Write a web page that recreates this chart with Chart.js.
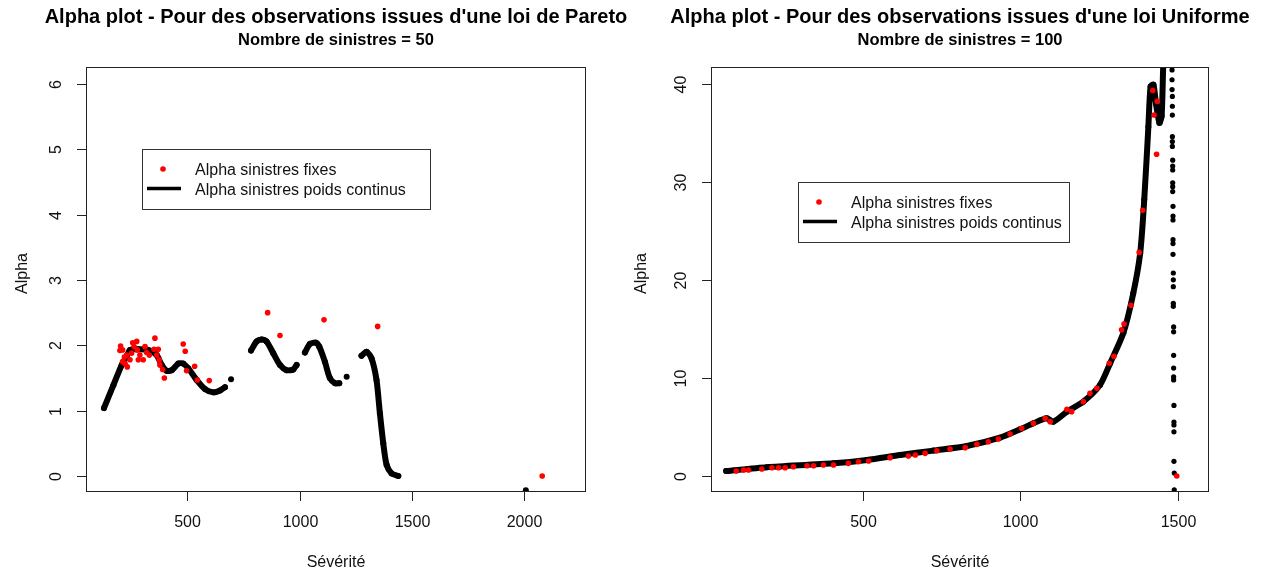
<!DOCTYPE html>
<html>
<head>
<meta charset="utf-8">
<script src="https://cdn.jsdelivr.net/npm/chart.js@4.4.1/dist/chart.umd.min.js"></script>
<style>
html, body { margin: 0; padding: 0; background: #fff; }
#cadre { position: relative; width: 1261px; height: 571px; }
#pareto { position: absolute; left: 0; top: 0; }
#uniforme { position: absolute; left: 630px; top: 0; }
</style>
</head>
<body>
<div id="cadre">
  <canvas id="pareto" width="630" height="571"></canvas>
  <canvas id="uniforme" width="631" height="571"></canvas>
</div>
<script>
// ---- Loi de Pareto, 50 sinistres ----
// alpha sinistres fixes
const paretoFixesX = [203, 200, 212, 220, 230, 223, 212, 233, 245, 252, 257, 275, 263, 277, 289, 282, 304, 312, 319, 331,
  356, 352, 371, 364, 375, 378, 390, 398, 482, 491, 497, 533, 545, 598, 858, 913, 1109, 1348, 2081];
const paretoFixesY = [1.99, 1.92, 1.93, 1.82, 1.85, 1.72, 1.75, 1.67, 1.78, 1.88, 2.04, 2.06, 1.98, 1.93, 1.85, 1.78, 1.78, 1.98, 1.89, 1.85,
  2.11, 1.94, 1.94, 1.85, 1.78, 1.70, 1.63, 1.50, 2.02, 1.91, 1.61, 1.68, 1.47, 1.46, 2.50, 2.15, 2.39, 2.29, 0.00];
// alpha poids continus (null = trou dans la courbe)
const paretoContinusX = [129, 171, 208, 230, 245, 282, 326, 364, 386, 408, 431, 460, 482, 504, 542, 579, 616, 646, 668,
  682, 695, 740,
  784, 809, 831, 853, 883, 913, 942, 972, 987,
  1005, 1024, 1046, 1073, 1088, 1113, 1135, 1158, 1177,
  1195, 1210, 1240,
  1276, 1299, 1321, 1343, 1358, 1373, 1388, 1410, 1440,
  1700, 2008];
const paretoContinusY = [1.04, 1.39, 1.70, 1.83, 1.93, 1.94, 1.93, 1.85, 1.70, 1.61, 1.62, 1.72, 1.72, 1.65, 1.47, 1.33, 1.28, 1.31, 1.36,
  null, 1.48, null,
  1.92, 2.06, 2.09, 2.06, 1.88, 1.70, 1.62, 1.63, 1.70,
  null, 1.89, 2.02, 2.04, 1.98, 1.75, 1.50, 1.42, 1.42,
  null, 1.52, null,
  1.84, 1.90, 1.80, 1.47, 0.96, 0.50, 0.17, 0.04, 0.00,
  null, -0.22];
const paretoTicksX = [500, 1000, 1500, 2000];
const paretoTicksY = [0, 1, 2, 3, 4, 5, 6];

// ---- Loi Uniforme, 100 sinistres ----
const uniformeFixesX = [100, 123, 139, 181, 213, 234, 255, 281, 324, 345, 376, 408, 455, 487, 519, 587, 645, 667, 698, 735,
  777, 825, 862, 898, 930, 967, 1004, 1041, 1078, 1094, 1147, 1162, 1199, 1220, 1242, 1281, 1296, 1320, 1328, 1350,
  1376, 1387, 1419, 1433, 1423, 1431, 1495];
const uniformeFixesY = [0.51, 0.61, 0.61, 0.71, 0.85, 0.85, 0.85, 0.95, 1.05, 1.05, 1.12, 1.12, 1.29, 1.46, 1.53, 1.87, 2.04, 2.14, 2.31, 2.58,
  2.76, 2.89, 3.23, 3.50, 3.78, 4.29, 4.86, 5.37, 5.88, 5.54, 6.80, 6.56, 7.58, 8.43, 8.94, 11.5, 12.2, 14.9, 15.5, 17.4,
  22.8, 27.1, 39.3, 38.2, 36.8, 32.8, 0.0];
const uniformeContinusX = [68, 197, 408, 514, 619, 724, 830, 935, 999, 1041, 1083, 1104, 1147, 1199, 1252, 1284, 1326, 1357,
  1379, 1392, 1405, 1412, 1421, 1429, 1440, 1447, 1452, 1458];
const uniformeContinusY = [0.51, 0.89, 1.29, 1.63, 2.14, 2.59, 3.06, 3.91, 4.76, 5.37, 5.88, 5.54, 6.56, 7.58, 9.29, 11.5, 14.6, 18.6,
  22.7, 28.2, 35.6, 39.7, 39.9, 38.0, 36.0, 36.7, 41.8, 46.0];
// colonne de points isolés près de 1500
const uniformeIsolesX = [1480, 1480, 1480, 1481, 1481, 1481, 1481, 1481, 1481, 1482, 1482, 1482, 1482, 1482, 1482, 1483, 1483, 1483, 1483, 1483,
  1483, 1484, 1484, 1484, 1484, 1484, 1485, 1485, 1485, 1485, 1485, 1485, 1486, 1486, 1486, 1486, 1486, 1487, 1487];
const uniformeIsolesY = [41.4, 40.4, 39.4, 38.7, 37.7, 36.8, 34.6, 34.1, 33.6, 32.2, 31.6, 31.2, 29.9, 29.5, 29.0, 27.5, 26.5, 26.1, 24.1, 23.7,
  22.6, 20.7, 20.0, 19.3, 17.6, 17.3, 15.2, 14.7, 12.3, 11.0, 10.1, 9.8, 7.2, 5.5, 5.2, 4.5, 1.5, 0.3, -1.4];
const uniformeTicksX = [500, 1000, 1500];
const uniformeTicksY = [0, 10, 20, 30, 40];

const policeR = '"Liberation Sans", Arial, sans-serif';

function enPoints(xs, ys) {
  return xs.map((x, i) => ({ x: x, y: ys[i] }));
}

// axes, titres et légende à la manière de R
const cadreR = {
  id: 'cadreR',
  afterDatasetsDraw(chart, args, o) {
    const ctx = chart.ctx;
    const a = chart.chartArea;
    const sx = chart.scales.x, sy = chart.scales.y;
    const cx = (a.left + a.right) / 2;
    ctx.save();

    ctx.strokeStyle = '#222';
    ctx.lineWidth = 1;
    ctx.strokeRect(a.left + 0.5, a.top + 0.5, a.right - a.left - 1, a.bottom - a.top - 1);

    ctx.fillStyle = '#111';
    ctx.font = '16px ' + policeR;
    ctx.textAlign = 'center';
    ctx.textBaseline = 'middle';
    o.ticksX.forEach(v => {
      const px = Math.round(sx.getPixelForValue(v)) + 0.5;
      ctx.beginPath();
      ctx.moveTo(px, a.bottom);
      ctx.lineTo(px, a.bottom + 9);
      ctx.stroke();
      ctx.fillText(String(v), px, a.bottom + 31);
    });
    o.ticksY.forEach(v => {
      const py = Math.round(sy.getPixelForValue(v)) + 0.5;
      ctx.beginPath();
      ctx.moveTo(a.left, py);
      ctx.lineTo(a.left - 9, py);
      ctx.stroke();
      ctx.save();
      ctx.translate(a.left - 29, py);
      ctx.rotate(-Math.PI / 2);
      ctx.fillText(String(v), 0, 0);
      ctx.restore();
    });

    ctx.fillText('Sévérité', cx, a.bottom + 71);
    ctx.save();
    ctx.translate(o.xAlpha, (a.top + a.bottom) / 2 - 6);
    ctx.rotate(-Math.PI / 2);
    ctx.fillText('Alpha', 0, 0);
    ctx.restore();

    ctx.fillStyle = '#000';
    ctx.font = 'bold 20px ' + policeR;
    ctx.fillText(o.titre, cx, 17);
    ctx.font = 'bold 16.5px ' + policeR;
    ctx.fillText(o.sousTitre, cx, 40);

    // légende
    const L = o.legende;
    const ds = chart.data.datasets;
    ctx.fillStyle = '#fff';
    ctx.fillRect(L.x, L.y, L.w, L.h);
    ctx.strokeStyle = '#333';
    ctx.strokeRect(L.x + 0.5, L.y + 0.5, L.w, L.h);
    ctx.fillStyle = ds[0].backgroundColor;
    ctx.beginPath();
    ctx.arc(L.x + 21, L.y + 20, 2.8, 0, Math.PI * 2);
    ctx.fill();
    ctx.strokeStyle = ds[1].borderColor;
    ctx.lineWidth = 3.5;
    ctx.beginPath();
    ctx.moveTo(L.x + 5, L.y + 39.5);
    ctx.lineTo(L.x + 39, L.y + 39.5);
    ctx.stroke();
    ctx.fillStyle = '#111';
    ctx.font = '16px ' + policeR;
    ctx.textAlign = 'left';
    ctx.fillText(ds[0].label, L.x + 53, L.y + 22);
    ctx.fillText(ds[1].label, L.x + 53, L.y + 42);
    ctx.restore();
  }
};

function faireGraphique(id, jeux, echelles, marges, opts) {
  new Chart(document.getElementById(id), {
    type: 'scatter',
    data: { datasets: jeux },
    options: {
      responsive: false,
      animation: false,
      layout: { padding: marges },
      plugins: { legend: { display: false }, tooltip: { enabled: false }, cadreR: opts },
      scales: {
        x: { type: 'linear', min: echelles.xmin, max: echelles.xmax, display: false },
        y: { type: 'linear', min: echelles.ymin, max: echelles.ymax, display: false }
      }
    },
    plugins: [cadreR]
  });
}

function jeuFixes(xs, ys) {
  return { label: 'Alpha sinistres fixes', data: enPoints(xs, ys), backgroundColor: '#ff0000',
    pointRadius: 2.8, pointBorderWidth: 0, clip: 0 };
}
function jeuContinus(xs, ys) {
  return { label: 'Alpha sinistres poids continus', data: enPoints(xs, ys), showLine: true, spanGaps: false,
    borderColor: '#000', backgroundColor: '#000', borderWidth: 6, tension: 0.25,
    borderCapStyle: 'round', borderJoinStyle: 'round',
    pointRadius: 3, pointBorderWidth: 0, clip: 0 };
}

faireGraphique('pareto',
  [jeuFixes(paretoFixesX, paretoFixesY), jeuContinus(paretoContinusX, paretoContinusY)],
  { xmin: 49, xmax: 2276, ymin: -0.245, ymax: 6.26 },
  { left: 86, right: 44, top: 67, bottom: 79 },
  { titre: "Alpha plot - Pour des observations issues d'une loi de Pareto", sousTitre: 'Nombre de sinistres = 50',
    ticksX: paretoTicksX, ticksY: paretoTicksY, xAlpha: 23,
    legende: { x: 142, y: 149, w: 288, h: 60 } });

faireGraphique('uniforme',
  [jeuFixes(uniformeFixesX, uniformeFixesY), jeuContinus(uniformeContinusX, uniformeContinusY),
   { label: 'Alpha sinistres poids continus', data: enPoints(uniformeIsolesX, uniformeIsolesY),
     backgroundColor: '#000', pointRadius: 2.6, pointBorderWidth: 0, clip: 0 }],
  { xmin: 20, xmax: 1597, ymin: -1.63, ymax: 41.7 },
  { left: 81, right: 52, top: 67, bottom: 79 },
  { titre: "Alpha plot - Pour des observations issues d'une loi Uniforme", sousTitre: 'Nombre de sinistres = 100',
    ticksX: uniformeTicksX, ticksY: uniformeTicksY, xAlpha: 12,
    legende: { x: 168, y: 182, w: 271, h: 60 } });
</script>
</body>
</html>
